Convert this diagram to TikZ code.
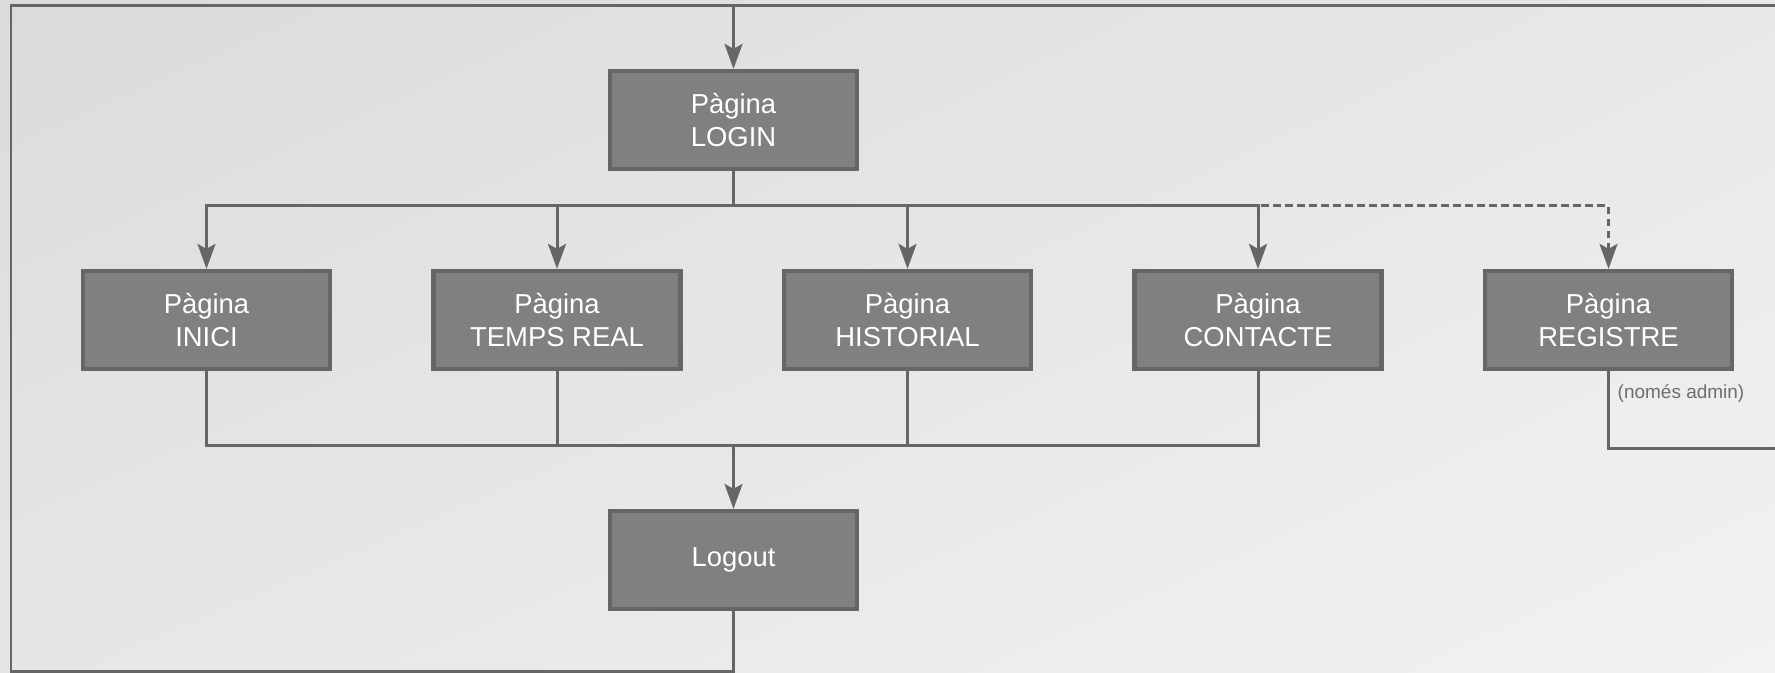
\documentclass[tikz,border=0pt]{standalone}
\usepackage{fontspec}
\setmainfont{Liberation Sans}
\usetikzlibrary{arrows.meta,shadings}
\definecolor{boxfill}{RGB}{128,128,128}
\definecolor{boxline}{RGB}{102,102,102}
\definecolor{notegray}{RGB}{110,110,110}
\definecolor{bgUL}{RGB}{219,219,219}
\definecolor{bgUR}{RGB}{232,232,232}
\definecolor{bgLL}{RGB}{230,230,230}
\definecolor{bgLR}{RGB}{242,242,242}
\tikzset{
  pagebox/.style={draw=boxline, fill=boxfill, line width=1.2pt, minimum width=2.47cm, minimum height=0.98cm,
    inner sep=0pt, text=white, align=center, font=\fontsize{7.8}{9.3}\selectfont},
  link/.style={draw=boxline, line width=0.85pt},
  arr/.style={link, -{Stealth[length=0.25cm, width=0.18cm, inset=0.05cm]}},
}
\begin{document}
\begin{tikzpicture}
  \useasboundingbox (0,0) rectangle (17.75,6.73);
  \shade[upper left=bgUL, upper right=bgUR, lower left=bgLL, lower right=bgLR] (0,0) rectangle (17.75,6.73);

  % pages
  \node[pagebox] (login) at (7.335,5.53) {Pàgina\\LOGIN};
  \node[pagebox] (inici) at (2.065,3.53) {Pàgina\\INICI};
  \node[pagebox] (temps) at (5.57,3.53) {Pàgina\\TEMPS REAL};
  \node[pagebox] (historial) at (9.075,3.53) {Pàgina\\HISTORIAL};
  \node[pagebox] (contacte) at (12.58,3.53) {Pàgina\\CONTACTE};
  \node[pagebox] (registre) at (16.085,3.53) {Pàgina\\REGISTRE};
  \node[pagebox] (logout) at (7.335,1.13) {Logout};

  % frame corners and branch levels
  \coordinate (fbl) at (0.11,0.015);
  \coordinate (ftl) at (0.11,6.67);
  \coordinate (ftr) at (17.75,6.67);
  \coordinate (split) at (7.335,4.67);
  \coordinate (merge) at (7.335,2.27);
  \coordinate (regout) at (17.75,2.24);

  % loop back from logout to login
  \draw[link] (logout.south) |- (fbl) -- (ftl) -- (ftr);
  \draw[arr] (login |- ftl) -- (login.north);

  % login to pages
  \draw[link, dash pattern=on 0.075cm off 0.045cm] (split) -| ([yshift=0.14cm]registre.north);
  \draw[arr] ([yshift=0.14cm]registre.north) -- (registre.north);
  \draw[link] (login.south) -- (split);
  \foreach \p in {inici,temps,historial,contacte}
    \draw[arr] (split) -| (\p.north);

  % pages to logout
  \foreach \p in {inici,temps,historial,contacte}
    \draw[link] (\p.south) |- (merge);
  \draw[arr] (merge) -- (logout.north);

  \draw[link] (registre.south) |- (regout);
  \node[anchor=west, text=notegray, font=\fontsize{5.4}{6.5}\selectfont, inner sep=0pt] (note) at (16.17,2.80) {(només admin)};
\end{tikzpicture}
\end{document}
